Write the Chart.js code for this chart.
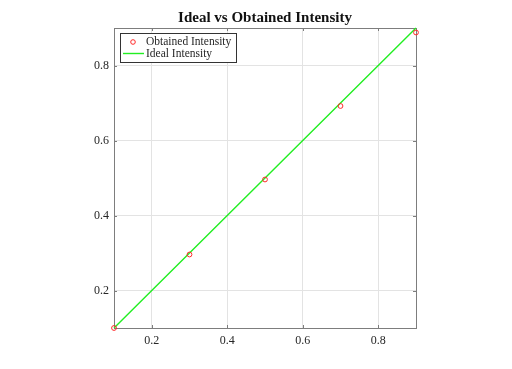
<!DOCTYPE html>
<html>
<head>
<meta charset="utf-8">
<script src="https://cdn.jsdelivr.net/npm/chart.js@4"></script>
<style>
  html, body { margin: 0; padding: 0; background: #fff; }
  canvas { display: block; }
</style>
</head>
<body>
<canvas id="chart" width="512" height="369"></canvas>
<script>
'use strict'

// data
const inputLevels = [0.1, 0.3, 0.5, 0.7, 0.9];
const obtainedIntensity = [0.1, 0.296, 0.496, 0.692, 0.888];
const idealIntensity = [0.1, 0.3, 0.5, 0.7, 0.9];
const xTicks = [0.2, 0.4, 0.6, 0.8];
const yTicks = [0.2, 0.4, 0.6, 0.8];
const seriesNames = ['Obtained Intensity', 'Ideal Intensity'];
const titleText = 'Ideal vs Obtained Intensity';

const font = '"Liberation Serif", "DejaVu Serif", serif';
const boxColor = '#7d7d7d';
const gridColor = '#e3e3e3';
const textColor = '#262626';
const red = '#ff2a2a';
const green = '#22ee22';

const toXY = (xs, ys) => xs.map((x, i) => ({ x: x, y: ys[i] }));

// box, inward ticks, title and legend, matlab style
const matlabFrame = {
	id: 'matlabFrame',
	beforeDatasetsDraw(chart) {
		const ctx = chart.ctx;
		const a = chart.chartArea;
		const xs = chart.scales.x;
		const ys = chart.scales.y;
		ctx.save();
		ctx.strokeStyle = boxColor;
		ctx.lineWidth = 1;
		ctx.beginPath();
		xTicks.forEach(v => {
			const px = Math.round(xs.getPixelForValue(v)) + 0.5;
			ctx.moveTo(px, a.bottom); ctx.lineTo(px, a.bottom - 3);
			ctx.moveTo(px, a.top); ctx.lineTo(px, a.top + 3);
		});
		yTicks.forEach(v => {
			const py = Math.round(ys.getPixelForValue(v)) + 0.5;
			ctx.moveTo(a.left, py); ctx.lineTo(a.left + 3, py);
			ctx.moveTo(a.right, py); ctx.lineTo(a.right - 3, py);
		});
		ctx.stroke();
		ctx.strokeRect(Math.round(a.left) + 0.5, Math.round(a.top) + 0.5,
			Math.round(a.right - a.left), Math.round(a.bottom - a.top));
		ctx.restore();
	},
	afterDraw(chart) {
		const ctx = chart.ctx;
		const a = chart.chartArea;
		ctx.save();
		// title
		ctx.fillStyle = '#111';
		ctx.font = 'bold 15px ' + font;
		ctx.textAlign = 'center';
		ctx.textBaseline = 'middle';
		ctx.fillText(titleText, (a.left + a.right) / 2, 18);

		// legend
		const lx = a.left + 6, ly = a.top + 5, lw = 116, lh = 29;
		ctx.fillStyle = '#fff';
		ctx.fillRect(lx, ly, lw, lh);
		ctx.strokeStyle = '#333';
		ctx.lineWidth = 1;
		ctx.strokeRect(lx + 0.5, ly + 0.5, lw, lh);

		ctx.strokeStyle = red;
		ctx.beginPath();
		ctx.arc(lx + 13, ly + 9, 2.3, 0, Math.PI * 2);
		ctx.stroke();

		ctx.strokeStyle = green;
		ctx.lineWidth = 1.4;
		ctx.beginPath();
		ctx.moveTo(lx + 3, ly + 20.5);
		ctx.lineTo(lx + 24, ly + 20.5);
		ctx.stroke();

		ctx.fillStyle = textColor;
		ctx.font = '11.5px ' + font;
		ctx.textAlign = 'left';
		ctx.fillText(seriesNames[0], lx + 26, ly + 9);
		ctx.fillText(seriesNames[1], lx + 26, ly + 20.5);
		ctx.restore();
	}
};

const tickFont = { family: font, size: 12 };

new Chart(document.getElementById('chart'), {
	type: 'scatter',
	data: {
		datasets: [
			{
				label: seriesNames[0],
				data: toXY(inputLevels, obtainedIntensity),
				showLine: false,
				pointStyle: 'circle',
				pointRadius: 2.4,
				borderWidth: 1,
				borderColor: red,
				backgroundColor: 'rgba(0,0,0,0)',
				clip: false,
				order: 0,
			},
			{
				label: seriesNames[1],
				data: toXY(inputLevels, idealIntensity),
				showLine: true,
				pointRadius: 0,
				borderWidth: 1.4,
				borderColor: green,
				clip: false,
				order: 1,
			},
		],
	},
	options: {
		responsive: false,
		animation: false,
		layout: { padding: { left: 0, top: 28, right: 96, bottom: 0 } },
		plugins: {
			legend: { display: false },
			title: { display: false },
			tooltip: { enabled: false },
		},
		scales: {
			x: {
				type: 'linear',
				min: 0.1,
				max: 0.9,
				afterBuildTicks: s => { s.ticks = xTicks.map(v => ({ value: v })); },
				afterFit: s => { s.height = 41; },
				grid: { color: gridColor, tickLength: 0 },
				border: { display: false },
				ticks: { font: tickFont, color: textColor, padding: 6, maxRotation: 0,
					callback: v => v.toFixed(1) },
			},
			y: {
				type: 'linear',
				min: 0.1,
				max: 0.9,
				afterBuildTicks: s => { s.ticks = yTicks.map(v => ({ value: v })); },
				afterFit: s => { s.width = 114; },
				grid: { color: gridColor, tickLength: 0 },
				border: { display: false },
				ticks: { font: tickFont, color: textColor, padding: 5,
					callback: v => v.toFixed(1) },
			},
		},
	},
	plugins: [matlabFrame],
});
</script>
</body>
</html>
